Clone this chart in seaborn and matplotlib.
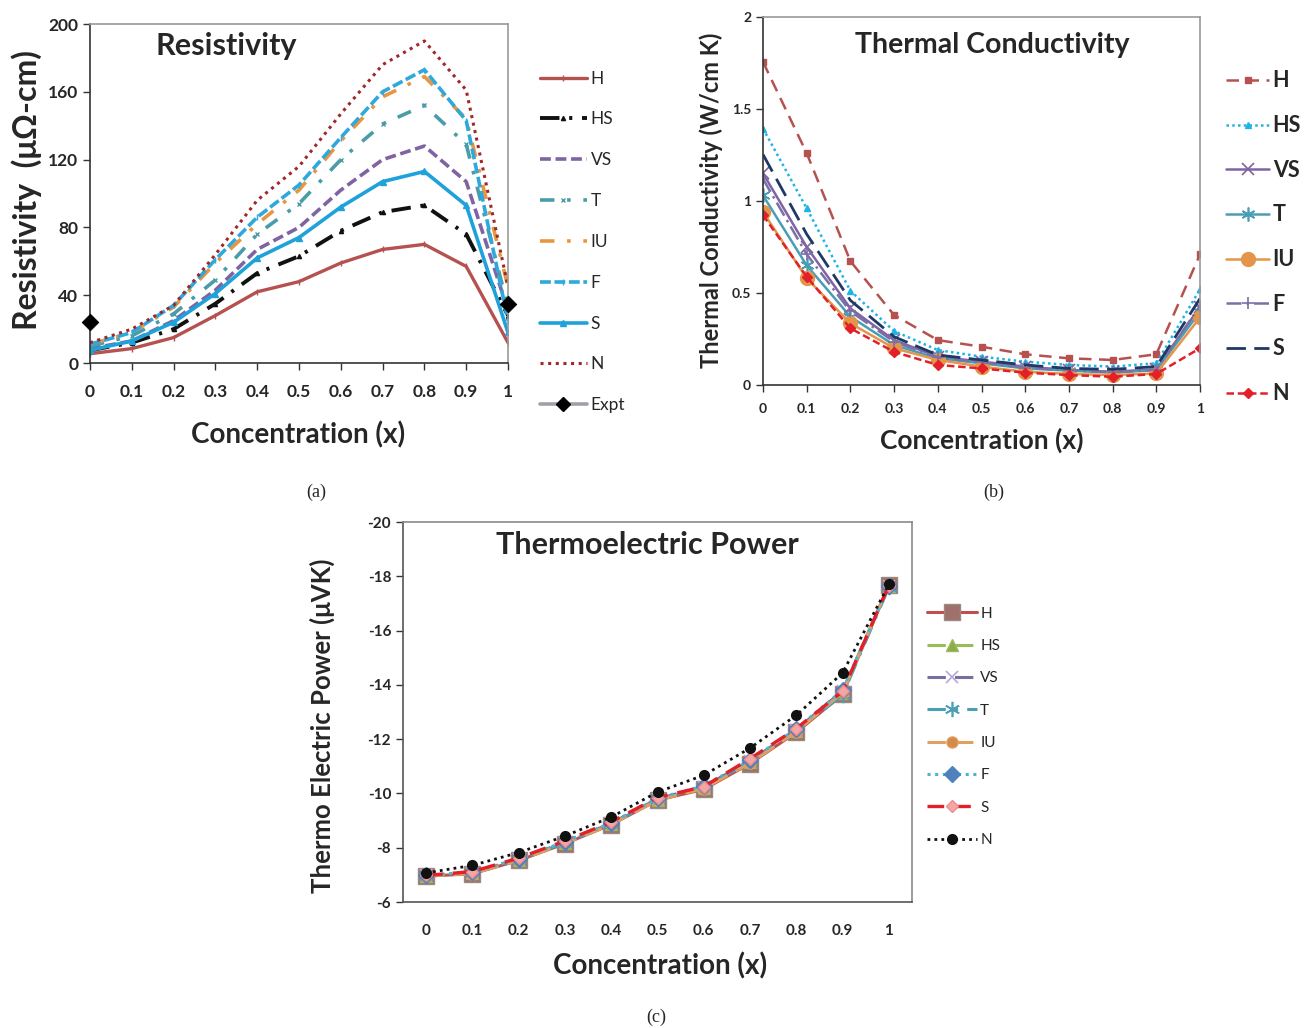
import numpy as np
import pandas as pd
import matplotlib
matplotlib.use("Agg")
import matplotlib.pyplot as plt
import seaborn as sns
from matplotlib.lines import Line2D

# ---------------- data ----------------
conc = [0.0, 0.1, 0.2, 0.3, 0.4, 0.5, 0.6, 0.7, 0.8, 0.9, 1.0]
xticks = [0, 0.1, 0.2, 0.3, 0.4, 0.5, 0.6, 0.7, 0.8, 0.9, 1]
xtick_labels = ["0", "0.1", "0.2", "0.3", "0.4", "0.5", "0.6", "0.7", "0.8", "0.9", "1"]
series_names = ["H", "HS", "VS", "T", "IU", "F", "S", "N"]

# (a) Resistivity (micro-ohm cm)
res_H = [5.5, 8.5, 15, 28, 42, 48, 59, 67, 70, 57, 12]
res_HS = [7.5, 12, 20, 35, 53, 63, 78, 89, 93, 76, 28]
res_VS = [8.5, 13, 25, 43, 67, 80, 102, 120, 128, 107, 31]
res_T = [10, 16, 29, 49, 76, 94, 120, 141, 152, 129, 33]
res_IU = [11, 18, 33, 59, 82, 102, 131, 157, 169, 144, 45]
res_F = [11, 18, 34, 61, 86, 105, 133, 160, 173, 143, 25]
res_S = [7.5, 13, 24, 41, 62, 74, 92, 107, 113, 93, 18]
res_N = [12, 20, 34, 64, 96, 116, 147, 176, 190, 161, 45]
expt_x = [0.0, 1.0]
expt_res = [24, 35]

# (b) Thermal conductivity (W/cm K)
tc_H = [1.756, 1.26, 0.673, 0.38, 0.244, 0.208, 0.167, 0.145, 0.136, 0.167, 0.71]
tc_HS = [1.394, 0.96, 0.512, 0.293, 0.19, 0.154, 0.127, 0.109, 0.10, 0.118, 0.52]
tc_VS = [1.15, 0.75, 0.416, 0.244, 0.154, 0.127, 0.10, 0.081, 0.072, 0.085, 0.425]
tc_T = [1.03, 0.65, 0.371, 0.217, 0.145, 0.118, 0.09, 0.078, 0.067, 0.081, 0.398]
tc_IU = [0.94, 0.58, 0.335, 0.20, 0.136, 0.10, 0.072, 0.06, 0.054, 0.063, 0.367]
tc_F = [1.12, 0.71, 0.40, 0.235, 0.15, 0.124, 0.095, 0.08, 0.07, 0.083, 0.43]
tc_S = [1.253, 0.82, 0.46, 0.262, 0.163, 0.136, 0.109, 0.09, 0.085, 0.10, 0.47]
tc_N = [0.923, 0.588, 0.308, 0.18, 0.109, 0.09, 0.067, 0.054, 0.045, 0.06, 0.20]

# (c) Thermoelectric power (microV/K)
tep_H = [-6.95, -7.04, -7.53, -8.15, -8.85, -9.75, -10.15, -11.10, -12.25, -13.65, -17.68]
tep_HS = [-6.97, -7.06, -7.55, -8.17, -8.87, -9.77, -10.20, -11.15, -12.30, -13.70, -17.65]
tep_VS = [-6.98, -7.08, -7.58, -8.20, -8.90, -9.80, -10.25, -11.20, -12.35, -13.78, -17.66]
tep_T = [-6.97, -7.07, -7.56, -8.18, -8.88, -9.78, -10.22, -11.17, -12.32, -13.62, -17.60]
tep_IU = [-6.96, -7.05, -7.54, -8.16, -8.86, -9.76, -10.18, -11.12, -12.28, -13.72, -17.67]
tep_F = [-6.99, -7.10, -7.60, -8.22, -8.92, -9.82, -10.28, -11.22, -12.38, -13.80, -17.64]
tep_S = [-6.98, -7.12, -7.62, -8.25, -8.95, -9.85, -10.25, -11.28, -12.39, -13.76, -17.66]
tep_N = [-7.07, -7.35, -7.82, -8.43, -9.13, -10.05, -10.67, -11.67, -12.88, -14.44, -17.70]

res_ticks = [0, 40, 80, 120, 160, 200]
tc_ticks = [0, 0.5, 1, 1.5, 2]
tc_tick_labels = ["0", "0.5", "1", "1.5", "2"]
tep_ticks = [-6, -8, -10, -12, -14, -16, -18, -20]

# ---------------- style ----------------
sns.set_style("ticks")
plt.rcParams['font.family'] = ['Lato', 'DejaVu Sans']
plt.rcParams['axes.unicode_minus'] = False

fig = plt.figure(figsize=(13.08, 10.28), dpi=100)
W, H = 1308.0, 1028.0


def add_ax(l, t, r, b):
    return fig.add_axes([l / W, 1 - b / H, (r - l) / W, (b - t) / H])


def draw(ax, y, label, color, ls, lw, marker=None, ms=0, mfc=None, mec=None, mew=1.0):
    df = pd.DataFrame({"x": conc, "y": y})
    sns.lineplot(data=df, x="x", y="y", ax=ax, color=color, linestyle=ls, lw=lw,
                 marker=marker if marker else "", markersize=ms,
                 markerfacecolor=mfc if mfc else color,
                 markeredgecolor=mec if mec else color, markeredgewidth=mew,
                 label=label)
    return ax.get_lines()[-1]


def style_axes(ax, dark="#333333", light="#9a9a9a"):
    for s in ["left", "bottom"]:
        ax.spines[s].set_color(dark)
        ax.spines[s].set_linewidth(1.2)
    for s in ["top", "right"]:
        ax.spines[s].set_visible(True)
        ax.spines[s].set_color(light)
        ax.spines[s].set_linewidth(1.2)
    ax.set_xlabel("")
    ax.set_ylabel("")
    ax.tick_params(direction="out", length=5, width=1, color="#333333")


# ---------------- (a) Resistivity ----------------
axA = add_ax(90, 24, 508, 363)
hA = []
hA.append(draw(axA, res_H, "H", "#B5524F", "-", 2.4, "|", 4))
hA.append(draw(axA, res_HS, "HS", "#111111", (0, (5, 2.5, 0.8, 2.5)), 2.8, "^", 3))
hA.append(draw(axA, res_VS, "VS", "#8064A2", (0, (3, 1.3)), 2.6))
hA.append(draw(axA, res_T, "T", "#4A9DA8", (0, (4, 3.5, 1, 3.5)), 2.6, "x", 3))
hA.append(draw(axA, res_IU, "IU", "#E8963F", (0, (4, 3.5, 1, 3.5)), 2.6))
hA.append(draw(axA, res_F, "F", "#2FA8DC", (0, (3, 1)), 2.6, "|", 4))
hA.append(draw(axA, res_S, "S", "#1FA2DA", "-", 2.6, "^", 4))
hA.append(draw(axA, res_N, "N", "#A0282A", (0, (1, 1.5)), 2.2))
sns.scatterplot(x=expt_x, y=expt_res, ax=axA, marker="D", s=70, color="black",
                edgecolor="black", zorder=10, legend=False, clip_on=False)
hA.append(Line2D([], [], color="#A0A0AA", lw=2.6, marker="D", ms=7.5,
                 markerfacecolor="black", markeredgecolor="black"))
axA.set_xlim(0, 1)
axA.set_ylim(0, 200)
axA.set_xticks(xticks)
axA.set_xticklabels(xtick_labels)
axA.set_yticks(res_ticks)
style_axes(axA)
for lab in axA.get_xticklabels() + axA.get_yticklabels():
    lab.set_fontweight("bold")
    lab.set_fontsize(12.5)
axA.tick_params(axis="x", pad=10)
axA.legend(hA, series_names + ["Expt"], loc="upper left",
           bbox_to_anchor=(524 / W, 1 - 55 / H), bbox_transform=fig.transFigure,
           frameon=False, fontsize=12.5, handlelength=2.75, handletextpad=0.2,
           labelspacing=1.43)
axA.text(0.325, 0.935, "Resistivity", transform=axA.transAxes, ha="center",
         va="center", fontsize=22, fontweight="bold")
fig.text(27 / W, 1 - 190 / H, "Resistivity  (\u03bc\u03a9-cm)", rotation=90,
         ha="center", va="center", fontsize=23, fontweight="bold")
fig.text(298 / W, 1 - 435 / H, "Concentration (x)", ha="center", va="center",
         fontsize=20, fontweight="bold")

# ---------------- (b) Thermal conductivity ----------------
axB = add_ax(763, 17, 1200, 385)
ast = (6, 2, 0)
hB = []
hB.append(draw(axB, tc_H, "H", "#B5524F", (0, (5, 3)), 1.8, "s", 4))
hB.append(draw(axB, tc_HS, "HS", "#1FB4E6", (0, (1, 1.3)), 1.8, "^", 5))
hB.append(draw(axB, tc_VS, "VS", "#8064A2", "-", 1.8, "x", 9, mew=1.2))
hB.append(draw(axB, tc_T, "T", "#4A9DB5", "-", 1.8, ast, 10, mew=1.2))
hB.append(draw(axB, tc_IU, "IU", "#E3964B", "-", 1.8, "o", 10))
hB.append(draw(axB, tc_F, "F", "#7B6FA8", (0, (6, 2, 1, 2)), 1.8, "+", 9, mew=1.2))
hB.append(draw(axB, tc_S, "S", "#1F3864", (0, (7, 3)), 2.0))
hB.append(draw(axB, tc_N, "N", "#E3202A", (0, (3, 1.5)), 1.8, "D", 5))
axB.set_xlim(0, 1)
axB.set_ylim(0, 2)
axB.set_xticks(xticks)
axB.set_xticklabels(xtick_labels)
axB.set_yticks(tc_ticks)
axB.set_yticklabels(tc_tick_labels)
style_axes(axB)
for lab in axB.get_xticklabels() + axB.get_yticklabels():
    lab.set_fontweight("bold")
    lab.set_fontsize(10)
axB.tick_params(axis="x", pad=8)
axB.legend(hB, series_names, loc="upper left",
           bbox_to_anchor=(1207 / W, 1 - 51 / H), bbox_transform=fig.transFigure,
           frameon=False, handlelength=2.0, handletextpad=0.15,
           labelspacing=1.1, prop={"weight": "bold", "size": 15.5})
axB.text(0.525, 0.925, "Thermal Conductivity", transform=axB.transAxes, ha="center",
         va="center", fontsize=20.5, fontweight="bold")
fig.text(711 / W, 1 - 200 / H, "Thermal Conductivity (W/cm K)", rotation=90,
         ha="center", va="center", fontsize=17, fontweight="bold")
fig.text(982 / W, 1 - 440 / H, "Concentration (x)", ha="center", va="center",
         fontsize=19, fontweight="bold")

# ---------------- (c) Thermoelectric power ----------------
axC = add_ax(403, 522, 912, 902)
hC = []
hC.append(draw(axC, tep_H, "H", "#C0504D", "-", 2.2, "s", 11, mfc="#A0706A", mec="#9A8A86"))
hC.append(draw(axC, tep_HS, "HS", "#9BBB59", (0, (6, 3)), 2.2, "^", 9, mfc="#8DAA50"))
hC.append(draw(axC, tep_VS, "VS", "#7A6E9E", (0, (6, 3)), 2.2, "x", 9, mec="#B5A8D8", mew=1.2))
hC.append(draw(axC, tep_T, "T", "#4BA0B5", (0, (6, 3, 1, 3)), 2.2, ast, 11, mew=1.2))
hC.append(draw(axC, tep_IU, "IU", "#E0A060", (0, (6, 3)), 2.2, "o", 8, mfc="#D58A48"))
hC.append(draw(axC, tep_F, "F", "#4BB4D6", (0, (1, 1.5)), 2.2, "D", 8, mfc="#4F81BD", mec="#4F81BD"))
hC.append(draw(axC, tep_S, "S", "#E3202A", (0, (5, 3)), 2.4, "D", 6, mfc="#F4A6A6", mec="#F08C8C"))
hC.append(draw(axC, tep_N, "N", "#111111", (0, (1, 1.5)), 2.0, "o", 7))
axC.set_xlim(-0.05, 1.05)
axC.set_ylim(-6, -20)
axC.set_xticks(xticks)
axC.set_xticklabels(xtick_labels)
axC.set_yticks(tep_ticks)
style_axes(axC, dark="#555555", light="#8a8a8a")
axC.tick_params(axis="x", length=0, pad=16)
for lab in axC.get_xticklabels() + axC.get_yticklabels():
    lab.set_fontweight("bold")
    lab.set_fontsize(11)
axC.legend(hC, series_names, loc="upper left",
           bbox_to_anchor=(913 / W, 1 - 593 / H), bbox_transform=fig.transFigure,
           frameon=False, fontsize=11, handlelength=3.3, handletextpad=0.2,
           labelspacing=1.2)
axC.text(0.48, 0.94, "Thermoelectric Power", transform=axC.transAxes, ha="center",
         va="center", fontsize=22, fontweight="bold")
fig.text(322 / W, 1 - 726 / H, "Thermo Electric Power (\u03bcVK)", rotation=90,
         ha="center", va="center", fontsize=18.5, fontweight="bold")
fig.text(660 / W, 1 - 966 / H, "Concentration (x)", ha="center", va="center",
         fontsize=20, fontweight="bold")

# captions
for cx, cy, t in [(316, 492, "(a)"), (994, 492, "(b)"), (656, 1017, "(c)")]:
    fig.text(cx / W, 1 - cy / H, t, ha="center", va="center", fontsize=13,
             family="Liberation Serif")

fig.savefig("out.png", dpi=100)
